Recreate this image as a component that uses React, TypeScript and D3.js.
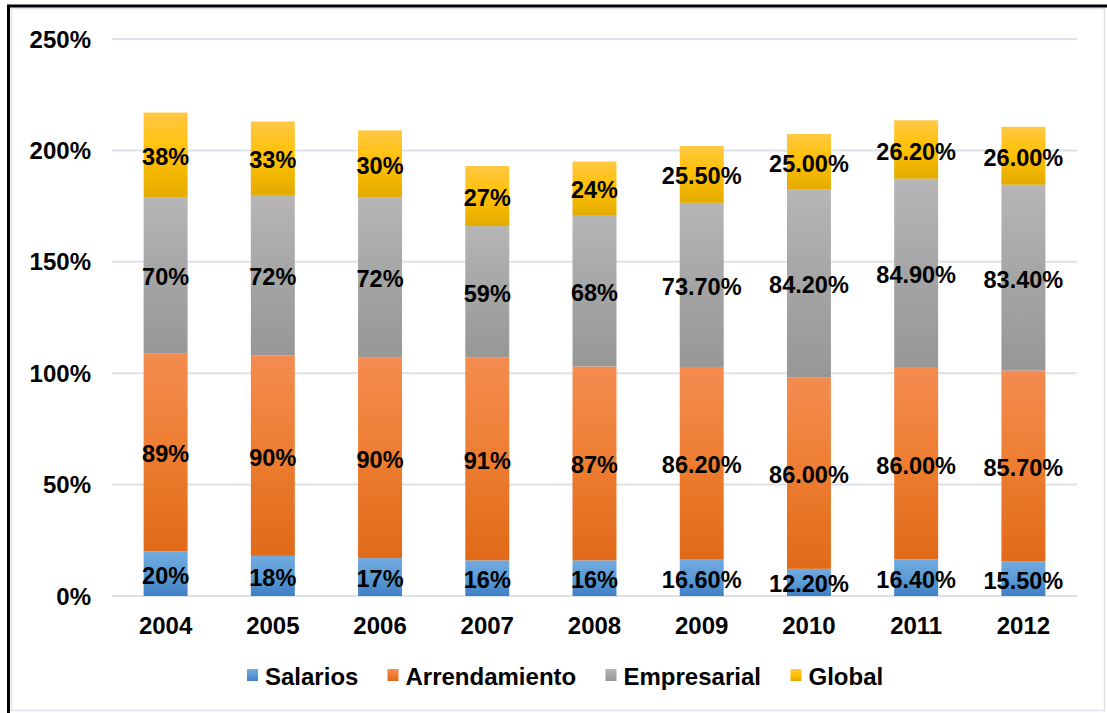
import React from "react";
import * as d3 from "d3";

const years = ["2004", "2005", "2006", "2007", "2008", "2009", "2010", "2011", "2012"];
const salarios = [20, 18, 17, 16, 16, 16.6, 12.2, 16.4, 15.5];
const arrendamiento = [89, 90, 90, 91, 87, 86.2, 86, 86, 85.7];
const empresarial = [70, 72, 72, 59, 68, 73.7, 84.2, 84.9, 83.4];
const global = [38, 33, 30, 27, 24, 25.5, 25, 26.2, 26];
const salariosLabels = ["20%", "18%", "17%", "16%", "16%", "16.60%", "12.20%", "16.40%", "15.50%"];
const arrendamientoLabels = ["89%", "90%", "90%", "91%", "87%", "86.20%", "86.00%", "86.00%", "85.70%"];
const empresarialLabels = ["70%", "72%", "72%", "59%", "68%", "73.70%", "84.20%", "84.90%", "83.40%"];
const globalLabels = ["38%", "33%", "30%", "27%", "24%", "25.50%", "25.00%", "26.20%", "26.00%"];
const seriesNames = ["Salarios", "Arrendamiento", "Empresarial", "Global"];
const yTicks = [0, 50, 100, 150, 200, 250];

const gradients = [
  ["#72aae0", "#5b9bd5", "#3f7fc4"],
  ["#f48c50", "#ed7d31", "#e06a18"],
  ["#b6b6b6", "#a5a5a5", "#979797"],
  ["#ffc844", "#ffc000", "#e3ab00"],
];

export default function App() {
  const W = 1107, H = 713;
  const left = 112, right = 1077, top = 39, bottom = 596;
  const x = d3.scaleBand<string>().domain(years).range([left, right]).paddingInner(0.59).paddingOuter(0.295);
  const y = d3.scaleLinear().domain([0, 250]).range([bottom, top]);
  const seriesLabels = [salariosLabels, arrendamientoLabels, empresarialLabels, globalLabels];
  const rows = years.map((yr, i) => ({ year: yr, s0: salarios[i], s1: arrendamiento[i], s2: empresarial[i], s3: global[i] }));
  const stack = d3.stack<any>().keys(["s0", "s1", "s2", "s3"])(rows);
  const font = "'Liberation Sans', Arial, sans-serif";
  const legendX = [247, 387.5, 605.5, 790.5];

  return (
    <svg width={W} height={H} style={{ position: "absolute", left: 0, top: 0 }} fontFamily={font}>
      <defs>
        {gradients.map((g, i) => (
          <linearGradient key={i} id={`g${i}`} x1="0" y1="0" x2="0" y2="1">
            <stop offset="0%" stopColor={g[0]} />
            <stop offset="50%" stopColor={g[1]} />
            <stop offset="100%" stopColor={g[2]} />
          </linearGradient>
        ))}
      </defs>
      <rect x={0} y={0} width={W} height={H} fill="#ffffff" />
      <rect x={11.5} y={8.5} width={1093} height={702} fill="none" stroke="#dde1e8" strokeWidth={1.5} />
      <line x1={7} y1={6} x2={W} y2={6} stroke="#000" strokeWidth={3} />
      <line x1={8.5} y1={5} x2={8.5} y2={H} stroke="#000" strokeWidth={3} />

      {yTicks.map((t) => (
        <g key={t}>
          <line x1={left} x2={right} y1={y(t)} y2={y(t)} stroke="#dde1e8" strokeWidth={2} />
          <text x={91} y={y(t) + 8.5} textAnchor="end" fontSize={24} fontWeight="bold" fill="#000">{t}%</text>
        </g>
      ))}

      {stack.map((layer, si) => (
        <g key={si}>
          {layer.map((d, i) => (
            <rect key={i} x={x(years[i])!} y={y(d[1])} width={x.bandwidth()} height={y(d[0]) - y(d[1])} fill={`url(#g${si})`} />
          ))}
        </g>
      ))}

      {stack.map((layer, si) => (
        <g key={"l" + si}>
          {layer.map((d, i) => (
            <text key={i} x={x(years[i])! + x.bandwidth() / 2} y={(y(d[0]) + y(d[1])) / 2 + 10} textAnchor="middle" fontSize={23.5} fontWeight="bold" fill="#000">
              {seriesLabels[si][i]}
            </text>
          ))}
        </g>
      ))}

      {years.map((yr) => (
        <text key={yr} x={x(yr)! + x.bandwidth() / 2} y={634} textAnchor="middle" fontSize={24} fontWeight="bold" fill="#000">{yr}</text>
      ))}

      {seriesNames.map((n, i) => (
        <g key={n}>
          <rect x={legendX[i]} y={669} width={11} height={12} fill={`url(#g${i})`} />
          <text x={legendX[i] + 18} y={684.5} fontSize={24} fontWeight="bold" fill="#000">{n}</text>
        </g>
      ))}
    </svg>
  );
}
